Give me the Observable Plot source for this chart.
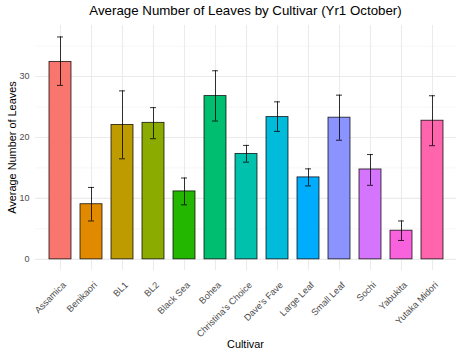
<!DOCTYPE html>
<html>
<head>
<meta charset="utf-8">
<script src="https://cdn.jsdelivr.net/npm/d3@7"></script>
<script src="https://cdn.jsdelivr.net/npm/@observablehq/plot@0.6"></script>
<style>
  html, body { margin: 0; padding: 0; background: #fff; }
  #wrap { position: relative; width: 462px; height: 355px; font-family: "Liberation Sans", Arial, sans-serif; }
  #title { position: absolute; top: 3px; left: 35px; width: 421px; text-align: center; font-size: 13.3px; color: #000; line-height: 16px; }
  #ytitle { position: absolute; left: -88px; top: 140px; width: 200px; height: 15px; line-height: 15px; text-align: center; font-size: 10.9px; color: #000; transform: rotate(-90deg); transform-origin: 100px 7.5px; }
  #xtitle { position: absolute; left: 35px; top: 337px; width: 421px; text-align: center; font-size: 10.9px; color: #000; line-height: 14px; }
  #chart { position: absolute; top: 0; left: 0; }
</style>
</head>
<body>
<div id="wrap">
  <div id="chart"></div>
  <div id="title">Average Number of Leaves by Cultivar (Yr1 October)</div>
  <div id="ytitle">Average Number of Leaves</div>
  <div id="xtitle">Cultivar</div>
</div>
<script>
const cultivars = ["Assamica","Benikaori","BL1","BL2","Black Sea","Bohea","Christina's Choice","Dave's Fave","Large Leaf","Small Leaf","Sochi","Yabukita","Yutaka Midori"];
const means  = [32.4, 9.05, 22.05, 22.4, 11.15, 26.8, 17.3, 23.35, 13.45, 23.25, 14.75, 4.7, 22.75];
const lowers = [28.55, 6.3, 16.5, 19.8, 8.95, 22.7, 15.95, 21.0, 12.05, 19.55, 12.15, 3.1, 18.65];
const uppers = [36.5, 11.8, 27.65, 24.9, 13.35, 30.95, 18.7, 25.85, 14.85, 26.95, 17.2, 6.3, 26.85];
const colors = ["#F8766D","#E18A00","#BE9C00","#8CAB00","#24B700","#00BE70","#00C1AB","#00BBDA","#00ACFC","#8B93FF","#D575FE","#F962DD","#FF65AC"];
const majorTicks = [0, 10, 20, 30];
const minorTicks = [5, 15, 25, 35];

const data = cultivars.map((c, i) => ({cultivar: c, mean: means[i], lo: lowers[i], hi: uppers[i]}));

const chart = Plot.plot({
  width: 462,
  height: 355,
  marginTop: 25,
  marginBottom: 85,
  marginLeft: 35,
  marginRight: 6,
  style: { fontFamily: "'Liberation Sans', Arial, sans-serif", background: "#fff" },
  x: { domain: cultivars, paddingInner: 0.3, paddingOuter: 0.25, label: null },
  y: { domain: [-1.83, 38.38], label: null },
  color: { domain: cultivars, range: colors },
  marks: [
    Plot.gridY(minorTicks, { stroke: "#f0f0f0", strokeOpacity: 1, strokeWidth: 0.6 }),
    Plot.gridY(majorTicks, { stroke: "#ebebeb", strokeOpacity: 1, strokeWidth: 1.1 }),
    Plot.gridX(cultivars, { stroke: "#ebebeb", strokeOpacity: 1, strokeWidth: 1.1 }),
    Plot.axisY(majorTicks, { tickSize: 0, tickPadding: 6, fontSize: 9, color: "#4d4d4d", label: null }),
    Plot.axisX({ tickSize: 0, tickPadding: 4, tickRotate: -45, fontSize: 9.2, color: "#4d4d4d", label: null, dx: 4, dy: 9 }),
    Plot.barY(data, { x: "cultivar", y: "mean", fill: "cultivar", stroke: "#000", strokeOpacity: 0.8, strokeWidth: 0.9 }),
    Plot.ruleX(data, { x: "cultivar", y1: "lo", y2: "hi", stroke: "#000", strokeOpacity: 0.8, strokeWidth: 1 }),
    Plot.tickY(data, { x: "cultivar", y: "lo", stroke: "#000", strokeOpacity: 0.8, strokeWidth: 1, insetLeft: 8, insetRight: 8 }),
    Plot.tickY(data, { x: "cultivar", y: "hi", stroke: "#000", strokeOpacity: 0.8, strokeWidth: 1, insetLeft: 8, insetRight: 8 })
  ]
});
document.getElementById("chart").appendChild(chart);
</script>
</body>
</html>
